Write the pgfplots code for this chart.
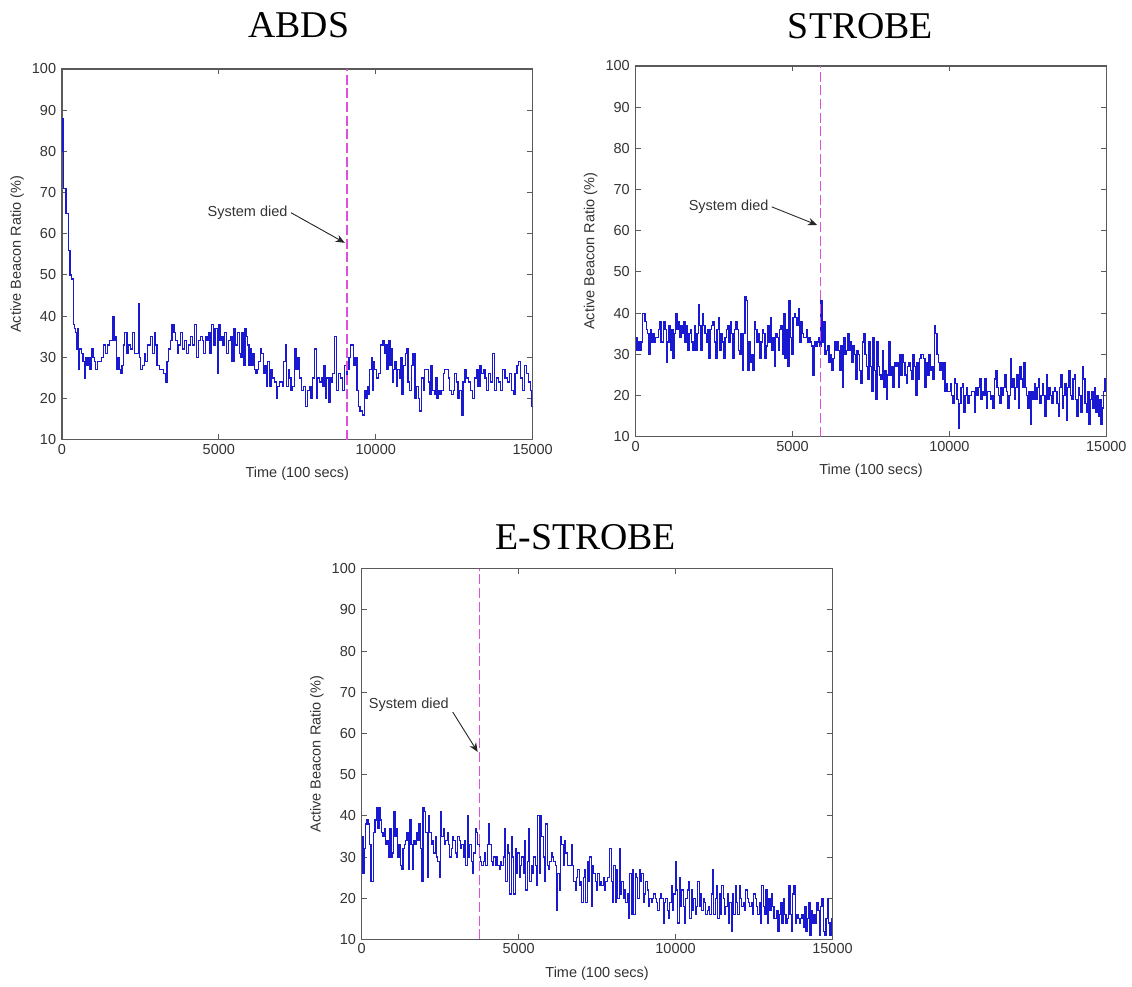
\documentclass[border=0pt]{standalone}
\usepackage{fontspec}
\setmainfont{Liberation Sans}
\newfontfamily\titlefont{Liberation Serif}
\usepackage{pgfplots}
\pgfplotsset{compat=1.18}
\usetikzlibrary{arrows.meta}
\definecolor{dblue}{RGB}{25,25,210}
\definecolor{magd}{RGB}{220,80,220}
\definecolor{axgray}{RGB}{90,90,90}
\pgfplotsset{
 mystyle/.style={
  scale only axis, width=282.6pt, height=222.6pt,
  xmin=0,xmax=15000,ymin=10,ymax=100,
  xtick={0,5000,10000,15000}, ytick={10,20,...,100},
  scaled x ticks=false,
  /pgf/number format/1000 sep={},
  /pgf/number format/assume math mode=true,
  tick label style={font=\fontsize{8.7}{10}\selectfont, text=black!80},
  label style={font=\fontsize{8.7}{10}\selectfont, text=black!80},
  axis line style={axgray, line width=0.7pt},
  major tick style={axgray, line width=0.6pt},
  major tick length=3.2pt,
  tick align=inside,
  xlabel={Time (100 secs)}, ylabel={Active Beacon Ratio (\%)},
  xticklabel style={yshift=1pt},
  xlabel style={yshift=-1pt},
  ylabel style={yshift=-2pt},
 },
 dataline/.style={const plot, no marks, dblue, line width=0.75pt},
 dieline/.style={magd, line width=0.8pt, dash pattern=on 6pt off 2.2pt},
}
\tikzset{
 noteline/.style={-{Stealth[length=5.5pt,width=4.5pt]}, line width=0.55pt, black!85},
 notetext/.style={font=\fontsize{8.7}{10}\selectfont, text=black!80, inner sep=1pt},
}
\begin{document}
\begin{tikzpicture}
\path (0,0) rectangle (679.2pt,-591.6pt);
\node[font=\titlefont\fontsize{22.7}{26}\selectfont, anchor=base] at (179.4pt,-22.8pt) {ABDS};
\node[font=\titlefont\fontsize{22.7}{26}\selectfont, anchor=base] at (516.6pt,-23.4pt) {STROBE};
\node[font=\titlefont\fontsize{22.7}{26}\selectfont, anchor=base] at (351.6pt,-330pt) {E-STROBE};

% ABDS
\begin{axis}[mystyle, at={(37.2pt,-264pt)}, anchor=south west]
\addplot[dataline] coordinates {
(0,88)(30,80)(60,71)(130,65)(200,56)(260,50)(300,49)(370,38)
(400,37)(440,36)(470,32)(500,37)(530,27)
(570,32)(620,31)(670,29)(720,25)(760,30)
(800,28)(850,30)(890,27)(940,32)(990,30)(1030,29)(1080,27)(1130,29)(1170,29)
(1220,29)(1270,30)(1330,33)(1390,31)(1450,33)(1520,34)(1620,40)(1660,34)
(1700,35)(1740,27)(1780,30)(1820,27)(1870,26)(1910,28)(1950,33)(1990,36)(2030,36)
(2070,31)(2130,33)(2190,32)(2250,36)(2320,31)(2440,43)(2480,30)
(2510,27)(2560,28)(2620,31)(2670,29)(2720,33)(2780,33)(2830,35)(2880,31)(2940,36)(2990,33)
(3030,28)(3100,27)(3170,27)(3240,26)(3300,24)
(3350,29)(3400,32)(3460,34)(3510,38)(3570,36)(3620,34)(3670,31)(3720,33)
(3780,36)(3840,32)(3900,34)(3970,31)(4030,33)(4100,35)(4160,33)(4230,38)(4290,30)(4350,34)
(4420,35)(4470,34)(4520,31)(4570,35)(4620,34)(4670,36)(4720,31)(4770,38)(4820,33)(4880,37)(4960,26)(5000,38)(5040,34)
(5080,35)(5130,33)(5190,36)(5250,31)(5300,34)(5360,35)(5420,29)(5480,37)(5540,33)(5600,36)(5650,31)
(5700,30)(5740,36)(5780,28)(5830,37)(5870,35)(5910,33)(5960,28)(6000,32)(6050,28)(6090,31)
(6130,27)(6180,26)(6220,27)(6270,29)(6320,32)(6370,31)(6420,26)(6470,28)(6520,23)
(6560,29)(6610,23)(6660,27)(6720,25)(6770,24)(6830,20)(6880,23)(6930,24)
(6980,24)(7020,23)(7070,29)(7120,33)(7160,23)(7210,27)(7260,25)(7300,22)(7350,23)
(7400,32)(7460,27)(7520,30)(7580,25)(7640,22)(7700,23)(7770,18)
(7830,22)(7880,23)(7940,20)(7990,25)(8040,32)(8100,20)(8150,25)(8200,24)
(8260,25)(8300,23)(8350,28)(8400,20)(8440,25)(8490,19)(8540,25)(8590,24)(8630,26)
(8690,35)(8760,22)(8820,26)(8880,25)(8940,22)(9000,28)(9060,25)
(9100,27)(9150,30)(9200,33)(9250,33)
(9290,28)(9340,30)(9400,22)
(9440,18)(9500,17)(9570,16)
(9650,22)(9690,20)(9730,23)(9770,21)(9810,27)(9860,30)(9900,22)
(9920,29)(9970,27)(10020,25)(10080,26)(10140,33)
(10190,33)(10230,34)(10270,31)(10310,33)(10360,27)(10400,34)(10450,28)(10500,32)(10540,24)
(10560,27)(10610,29)(10660,23)(10700,27)(10750,25)(10800,30)(10840,21)(10890,28)(10940,31)
(10980,32)(11030,24)(11080,22)(11140,28)(11190,31)(11250,20)
(11300,23)(11350,20)(11400,17)(11460,25)(11510,22)(11560,27)
(11620,27)(11670,24)(11710,21)(11760,28)(11810,22)(11860,21)(11900,25)(11950,20)(12000,22)
(12050,21)(12100,22)(12150,26)(12200,27)(12260,27)(12310,25)(12360,22)(12410,21)
(12470,22)(12520,26)(12570,24)(12620,20)(12670,22)(12730,16)(12780,24)(12840,27)
(12900,25)(12960,24)(13020,22)(13080,20)(13140,25)(13200,27)(13260,23)(13320,28)(13380,26)
(13430,27)(13480,25)(13540,22)(13600,26)(13660,24)(13730,31)(13790,22)
(13850,25)(13920,24)(13980,22)(14050,27)(14120,25)(14190,24)(14260,26)(14320,22)
(14380,21)(14440,26)(14500,28)(14560,29)(14620,25)(14680,22)(14740,28)(14800,26)(14860,24)(14920,22)(14970,18)(15000,18)
};
\addplot[dieline] coordinates {(9080,10)(9080,100)};
\node[notetext, anchor=east] at (axis cs:7250,65.1) {System died};
\draw[noteline] (axis cs:7300,65.1) -- (axis cs:9013,57.8);
\end{axis}

% STROBE
\begin{axis}[mystyle, at={(381.6pt,-262.2pt)}, anchor=south west]
\addplot[dataline] coordinates {
(0,34)(42.5,31)(85,33)(127.5,31)(170,33)
(212.5,40)(255,40)(297.5,38)(340,36)(382.5,35)
(425,30)(467.5,36)(510,33)(552.5,35)(595,33)
(637.5,34)(680,34)(722.5,36)(765,38)(807.5,33)
(850,33)(892.5,38)(935,36)(977.5,28)(1020,33)
(1062.5,37)(1105,31)(1147.5,36)(1190,29)(1232.5,35)
(1275,40)(1317.5,36)(1360,38)(1402.5,34)(1445,37)
(1487.5,35)(1530,38)(1572.5,33)(1615,37)(1657.5,31)
(1700,35)(1742.5,36)(1785,33)(1827.5,31)(1870,37)
(1912.5,31)(1955,35)(1997.5,42)(2040,37)(2082.5,31)
(2125,40)(2167.5,37)(2210,35)(2252.5,33)(2295,36)
(2337.5,29)(2380,36)(2422.5,37)(2465,38)(2507.5,33)
(2550,29)(2592.5,36)(2635,39)(2677.5,31)(2720,35)
(2762.5,33)(2805,29)(2847.5,34)(2890,36)(2932.5,37)
(2975,33)(3017.5,38)(3060,35)(3102.5,29)(3145,36)
(3187.5,38)(3230,36)(3272.5,31)(3315,30)(3357.5,35)
(3400,26)(3442.5,35)(3485,44)(3527.5,43)(3570,26)
(3612.5,33)(3655,28)(3697.5,30)(3740,26)(3782.5,38)
(3825,36)(3867.5,33)(3910,35)(3952.5,29)(3995,33)
(4037.5,36)(4080,35)(4122.5,29)(4165,32)(4207.5,37)
(4250,33)(4292.5,39)(4335,31)(4377.5,34)(4420,27)
(4462.5,35)(4505,34)(4547.5,31)(4590,36)(4632.5,37)
(4675,30)(4717.5,40)(4760,29)(4802.5,36)(4845,27)
(4887.5,43)(4930,34)(4972.5,30)(5015,39)(5057.5,40)
(5100,39)(5142.5,37)(5185,41)(5227.5,33)(5270,38)
(5312.5,35)(5355,34)(5397.5,34)(5440,36)(5482.5,33)
(5525,34)(5567.5,33)(5610,32)(5652.5,25)(5695,33)
(5737.5,32)(5780,33)(5822.5,34)(5865,32)(5907.5,43)
(5950,33)(5992.5,38)(6035,30)(6077.5,31)(6120,32)
(6162.5,28)(6205,30)(6247.5,26)(6290,29)(6332.5,33)
(6375,31)(6417.5,33)(6460,31)(6502.5,26)(6545,32)
(6587.5,22)(6630,34)(6672.5,30)(6715,31)(6757.5,35)
(6800,31)(6842.5,33)(6885,28)(6927.5,32)(6970,30)
(7012.5,24)(7055,31)(7097.5,30)(7140,26)(7182.5,23)
(7225,33)(7267.5,35)(7310,30)(7352.5,27)(7395,24)
(7437.5,33)(7480,27)(7522.5,21)(7565,34)(7607.5,26)
(7650,19)(7692.5,33)(7735,27)(7777.5,25)(7820,24)
(7862.5,31)(7905,22)(7947.5,26)(7990,19)(8032.5,25)
(8075,33)(8117.5,25)(8160,27)(8202.5,22)(8245,28)
(8287.5,27)(8330,28)(8372.5,22)(8415,30)(8457.5,25)
(8500,30)(8542.5,28)(8585,25)(8627.5,23)(8670,27)
(8712.5,28)(8755,26)(8797.5,24)(8840,30)(8882.5,27)
(8925,20)(8967.5,28)(9010,24)(9052.5,29)(9095,30)
(9137.5,30)(9180,29)(9222.5,22)(9265,28)(9307.5,25)
(9350,30)(9392.5,26)(9435,27)(9477.5,24)(9520,37)
(9562.5,35)(9605,30)(9647.5,28)(9690,26)(9732.5,28)
(9775,24)(9817.5,28)(9860,21)(9902.5,23)(9945,21)
(9987.5,21)(10030,23)(10072.5,20)(10115,18)(10157.5,24)
(10200,23)(10242.5,19)(10285,12)(10327.5,18)(10370,22)
(10412.5,23)(10455,16)(10497.5,20)(10540,22)(10582.5,18)
(10625,20)(10667.5,20)(10710,21)(10752.5,21)(10795,16)
(10837.5,22)(10880,20)(10922.5,22)(10965,24)(11007.5,19)
(11050,21)(11092.5,20)(11135,24)(11177.5,17)(11220,21)
(11262.5,21)(11305,19)(11347.5,20)(11390,17)(11432.5,24)
(11475,26)(11517.5,22)(11560,20)(11602.5,18)(11645,22)
(11687.5,20)(11730,22)(11772.5,25)(11815,21)(11857.5,17)
(11900,20)(11942.5,29)(11985,22)(12027.5,24)(12070,19)
(12112.5,22)(12155,25)(12197.5,17)(12240,27)(12282.5,24)
(12325,22)(12367.5,28)(12410,22)(12452.5,20)(12495,17)
(12537.5,21)(12580,13)(12622.5,21)(12665,19)(12707.5,23)
(12750,19)(12792.5,22)(12835,24)(12877.5,18)(12920,20)
(12962.5,23)(13005,20)(13047.5,15)(13090,25)(13132.5,19)
(13175,22)(13217.5,20)(13260,18)(13302.5,21)(13345,22)
(13387.5,21)(13430,18)(13472.5,15)(13515,22)(13557.5,25)
(13600,17)(13642.5,20)(13685,23)(13727.5,14)(13770,22)
(13812.5,26)(13855,20)(13897.5,19)(13940,24)(13982.5,25)
(14025,19)(14067.5,15)(14110,22)(14152.5,20)(14195,16)
(14237.5,27)(14280,24)(14322.5,18)(14365,16)(14407.5,21)
(14450,13)(14492.5,19)(14535,21)(14577.5,17)(14620,22)
(14662.5,16)(14705,20)(14747.5,15)(14790,19)(14832.5,13)
(14875,17)(14917.5,21)(14960,24)(15000,24)
};
\addplot[dieline] coordinates {(5900,10)(5900,100)};
\node[notetext, anchor=east] at (axis cs:4300,65.8) {System died};
\draw[noteline] (axis cs:4340,65.8) -- (axis cs:5784,61.4);
\end{axis}

% E-STROBE
\begin{axis}[mystyle, at={(217.2pt,-564pt)}, anchor=south west]
\addplot[dataline] coordinates {
(0,35)(42.5,26)(85,32)(127.5,38)(170,39)
(212.5,38)(255,33)(297.5,24)(340,24)(382.5,36)
(425,39)(467.5,42)(510,37)(552.5,42)(595,39)
(637.5,36)(680,35)(722.5,37)(765,33)(807.5,34)
(850,30)(892.5,37)(935,30)(977.5,31)(1020,41)
(1062.5,35)(1105,37)(1147.5,30)(1190,33)(1232.5,28)
(1275,27)(1317.5,32)(1360,33)(1402.5,34)(1445,36)
(1487.5,27)(1530,39)(1572.5,33)(1615,27)(1657.5,34)
(1700,33)(1742.5,36)(1785,34)(1827.5,38)(1870,32)
(1912.5,24)(1955,42)(1997.5,41)(2040,36)(2082.5,25)
(2125,40)(2167.5,36)(2210,33)(2252.5,34)(2295,31)
(2337.5,35)(2380,30)(2422.5,29)(2465,25)(2507.5,41)
(2550,35)(2592.5,37)(2635,33)(2677.5,34)(2720,36)
(2762.5,33)(2805,30)(2847.5,32)(2890,35)(2932.5,34)
(2975,31)(3017.5,30)(3060,35)(3102.5,34)(3145,32)
(3187.5,33)(3230,30)(3272.5,34)(3315,28)(3357.5,40)
(3400,30)(3442.5,33)(3485,29)(3527.5,26)(3570,31)
(3612.5,37)(3655,36)(3697.5,33)(3740,30)(3782.5,29)
(3825,28)(3867.5,29)(3910,31)(3952.5,28)(3995,33)
(4037.5,38)(4080,33)(4122.5,29)(4165,28)(4207.5,30)
(4250,28)(4292.5,30)(4335,28)(4377.5,27)(4420,29)
(4462.5,28)(4505,30)(4547.5,37)(4590,24)(4632.5,33)
(4675,31)(4717.5,21)(4760,35)(4802.5,30)(4845,21)
(4887.5,32)(4930,26)(4972.5,31)(5015,25)(5057.5,28)
(5100,30)(5142.5,26)(5185,34)(5227.5,22)(5270,29)
(5312.5,37)(5355,24)(5397.5,28)(5440,26)(5482.5,30)
(5525,28)(5567.5,23)(5610,40)(5652.5,26)(5695,40)
(5737.5,35)(5780,30)(5822.5,24)(5865,38)(5907.5,28)
(5950,27)(5992.5,29)(6035,31)(6077.5,30)(6120,29)
(6162.5,28)(6205,17)(6247.5,26)(6290,22)(6332.5,35)
(6375,33)(6417.5,28)(6460,34)(6502.5,31)(6545,28)
(6587.5,28)(6630,28)(6672.5,33)(6715,28)(6757.5,24)
(6800,22)(6842.5,25)(6885,27)(6927.5,23)(6970,24)
(7012.5,19)(7055,25)(7097.5,27)(7140,19)(7182.5,29)
(7225,24)(7267.5,30)(7310,18)(7352.5,28)(7395,26)
(7437.5,24)(7480,22)(7522.5,26)(7565,23)(7607.5,24)
(7650,23)(7692.5,25)(7735,22)(7777.5,24)(7820,25)
(7862.5,25)(7905,32)(7947.5,24)(7990,19)(8032.5,28)
(8075,19)(8117.5,27)(8160,20)(8202.5,32)(8245,21)
(8287.5,24)(8330,20)(8372.5,22)(8415,19)(8457.5,21)
(8500,15)(8542.5,26)(8585,16)(8627.5,27)(8670,16)
(8712.5,26)(8755,25)(8797.5,20)(8840,27)(8882.5,24)
(8925,26)(8967.5,19)(9010,21)(9052.5,24)(9095,22)
(9137.5,18)(9180,20)(9222.5,19)(9265,20)(9307.5,21)
(9350,20)(9392.5,19)(9435,17)(9477.5,20)(9520,21)
(9562.5,20)(9605,14)(9647.5,19)(9690,20)(9732.5,17)
(9775,15)(9817.5,19)(9860,23)(9902.5,17)(9945,21)
(9987.5,29)(10030,22)(10072.5,14)(10115,25)(10157.5,18)
(10200,22)(10242.5,18)(10285,14)(10327.5,20)(10370,22)
(10412.5,24)(10455,15)(10497.5,22)(10540,17)(10582.5,20)
(10625,16)(10667.5,18)(10710,24)(10752.5,18)(10795,21)
(10837.5,17)(10880,20)(10922.5,19)(10965,16)(11007.5,17)
(11050,18)(11092.5,16)(11135,21)(11177.5,27)(11220,16)
(11262.5,20)(11305,23)(11347.5,15)(11390,21)(11432.5,16)
(11475,23)(11517.5,20)(11560,16)(11602.5,18)(11645,21)
(11687.5,14)(11730,19)(11772.5,12)(11815,21)(11857.5,16)
(11900,23)(11942.5,19)(11985,16)(12027.5,23)(12070,20)
(12112.5,18)(12155,19)(12197.5,17)(12240,22)(12282.5,20)
(12325,19)(12367.5,18)(12410,19)(12452.5,16)(12495,21)
(12537.5,20)(12580,18)(12622.5,16)(12665,19)(12707.5,14)
(12750,23)(12792.5,18)(12835,16)(12877.5,22)(12920,14)
(12962.5,20)(13005,17)(13047.5,21)(13090,18)(13132.5,15)
(13175,15)(13217.5,17)(13260,12)(13302.5,16)(13345,19)
(13387.5,14)(13430,20)(13472.5,16)(13515,14)(13557.5,15)
(13600,23)(13642.5,16)(13685,12)(13727.5,21)(13770,23)
(13812.5,14)(13855,16)(13897.5,15)(13940,14)(13982.5,15)
(14025,16)(14067.5,13)(14110,18)(14152.5,12)(14195,15)
(14237.5,19)(14280,11)(14322.5,17)(14365,14)(14407.5,16)
(14450,14)(14492.5,19)(14535,17)(14577.5,11)(14620,18)
(14662.5,20)(14705,12)(14747.5,11)(14790,15)(14832.5,20)
(14875,14)(14917.5,11)(14960,15)(15000,15)
};
\addplot[dieline] coordinates {(3750,10)(3750,100)};
\node[notetext, anchor=east] at (axis cs:2834,66.9) {System died};
\draw[noteline] (axis cs:2898,65.2) -- (axis cs:3694,55.5);
\end{axis}
\end{tikzpicture}
\end{document}
